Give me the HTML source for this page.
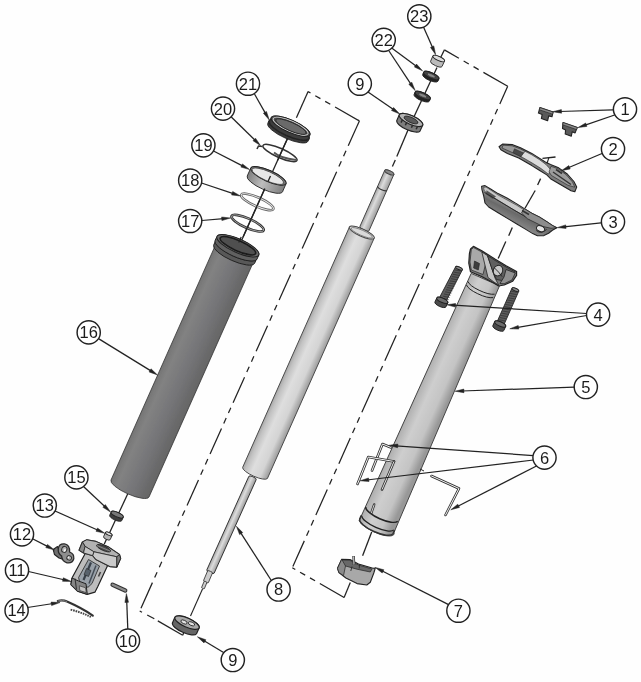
<!DOCTYPE html>
<html><head><meta charset="utf-8"><title>Exploded view</title>
<style>
html,body{margin:0;padding:0;background:#fefefe;}
svg{display:block;}
.n{font-family:"Liberation Sans",sans-serif;font-size:16.5px;fill:#1c1c1c;}
</style></head><body>
<svg width="641" height="682" viewBox="0 0 641 682">
<rect width="641" height="682" fill="#fefefe"/>
<g filter="url(#bl)">
<defs><filter id="bl" x="0" y="0" width="641" height="682" filterUnits="userSpaceOnUse"><feGaussianBlur stdDeviation="0.45"/></filter>
<linearGradient id="g16" gradientUnits="userSpaceOnUse" x1="0" y1="0" x2="41" y2="0" gradientTransform="translate(219 236) rotate(24)">
<stop offset="0" stop-color="#747474"/><stop offset="0.2" stop-color="#828282"/><stop offset="0.6" stop-color="#757578"/><stop offset="1" stop-color="#666"/></linearGradient>
<linearGradient id="g8" gradientUnits="userSpaceOnUse" x1="0" y1="0" x2="27" y2="0" gradientTransform="translate(349 227) rotate(24)">
<stop offset="0" stop-color="#a4a4a4"/><stop offset="0.15" stop-color="#c2c2c2"/><stop offset="0.4" stop-color="#dedede"/><stop offset="0.75" stop-color="#d4d4d4"/><stop offset="1" stop-color="#a0a0a0"/></linearGradient>
<linearGradient id="g5" gradientUnits="userSpaceOnUse" x1="0" y1="0" x2="35" y2="0" gradientTransform="translate(469 268) rotate(24)">
<stop offset="0" stop-color="#9c9c9c"/><stop offset="0.12" stop-color="#b2b2b2"/><stop offset="0.4" stop-color="#cecece"/><stop offset="0.75" stop-color="#c4c4c4"/><stop offset="1" stop-color="#989898"/></linearGradient>
<linearGradient id="g19" gradientUnits="userSpaceOnUse" x1="0" y1="0" x2="40" y2="0" gradientTransform="translate(249 168) rotate(24)"><stop offset="0" stop-color="#777"/><stop offset="0.45" stop-color="#bdbdbd"/><stop offset="1" stop-color="#808080"/></linearGradient>
<linearGradient id="g3" gradientUnits="userSpaceOnUse" x1="500" y1="196" x2="492" y2="212"><stop offset="0" stop-color="#9a9a9a"/><stop offset="0.5" stop-color="#6a6a6a"/><stop offset="1" stop-color="#858585"/></linearGradient>
<linearGradient id="g8b" gradientUnits="userSpaceOnUse" x1="0" y1="0" x2="8" y2="0" gradientTransform="translate(248.8 476.4) rotate(24)"><stop offset="0" stop-color="#aaa"/><stop offset="0.4" stop-color="#ddd"/><stop offset="1" stop-color="#999"/></linearGradient>
<linearGradient id="g8s" gradientUnits="userSpaceOnUse" x1="0" y1="0" x2="10" y2="0" gradientTransform="translate(384.7 170.4) rotate(24)"><stop offset="0" stop-color="#a2a2a2"/><stop offset="0.4" stop-color="#dcdcdc"/><stop offset="1" stop-color="#9c9c9c"/></linearGradient>
</defs>
<line x1="296.4" y1="117.7" x2="308.1" y2="91.6" stroke="#222" stroke-width="1.25" />
<line x1="359.4" y1="120.9" x2="308.1" y2="91.6" stroke="#222" stroke-width="1.25" stroke-dasharray="28 5.5 5.9 5.5 5.9 5.5" stroke-dashoffset="0"/>
<line x1="359.4" y1="120.9" x2="139.7" y2="611" stroke="#222" stroke-width="1.25" stroke-dasharray="28 5.5 5.9 5.5 5.9 5.5" stroke-dashoffset="0.7"/>
<line x1="139.7" y1="611" x2="142" y2="612.2" stroke="#222" stroke-width="1.25" />
<line x1="147.2" y1="615" x2="154.3" y2="618.8" stroke="#222" stroke-width="1.25" />
<line x1="157.8" y1="620.9" x2="182.7" y2="635.3" stroke="#222" stroke-width="1.25" />
<line x1="182.7" y1="635.3" x2="184.2" y2="631.5" stroke="#222" stroke-width="1.25" />
<line x1="440.9" y1="57" x2="444.4" y2="49.9" stroke="#222" stroke-width="1.25" />
<line x1="507.7" y1="86.3" x2="444.4" y2="49.9" stroke="#222" stroke-width="1.25" stroke-dasharray="28 5.5 5.9 5.5 5.9 5.5" stroke-dashoffset="0"/>
<line x1="507.7" y1="86.3" x2="292.3" y2="567.7" stroke="#222" stroke-width="1.25" stroke-dasharray="28 5.5 5.9 5.5 5.9 5.5" stroke-dashoffset="8.7"/>
<line x1="344.1" y1="597.5" x2="292.3" y2="567.7" stroke="#222" stroke-width="1.25" stroke-dasharray="28 5.5 5.9 5.5 5.9 5.5" stroke-dashoffset="0"/>
<line x1="344.1" y1="597.5" x2="350.3" y2="582.6" stroke="#222" stroke-width="1.25" />
<line x1="289" y1="135" x2="240" y2="244" stroke="#222" stroke-width="1.3" />
<line x1="128.6" y1="492" x2="104.3" y2="544" stroke="#222" stroke-width="1.3" />
<path d="M216.5 242.7 L111 480 A20.8 5.8 24.0 0 0 149 497 L254.5 259.6 A20.8 5.8 24.0 0 0 216.5 242.7 Z" fill="url(#g16)" stroke="#333" stroke-width="0.8" stroke-linejoin="round"/>
<path d="M215.6 240.7 L213.6 245.3 A22.4 6.7 24.0 0 0 254.5 263.5 L256.5 258.9 A22.4 6.7 24.0 0 0 215.6 240.7 Z" fill="#585858" stroke="#222" stroke-width="1" stroke-linejoin="round"/>
<ellipse cx="236.1" cy="249.8" rx="22.4" ry="6.7" transform="rotate(24.0 236.1 249.8)" fill="#444" stroke="#222" stroke-width="1" />
<path d="M217 236.4 L215.1 240.5 A22.9 6.9 24.0 0 0 257 259.1 L258.8 255 A22.9 6.9 24.0 0 0 217 236.4 Z" fill="#606060" stroke="#222" stroke-width="1" stroke-linejoin="round"/>
<ellipse cx="237.9" cy="245.7" rx="22.9" ry="6.9" transform="rotate(24.0 237.9 245.7)" fill="#6a6a6a" stroke="#222" stroke-width="1" />
<ellipse cx="237.9" cy="245.7" rx="19.4" ry="5.2" transform="rotate(24.0 237.9 245.7)" fill="#505050" stroke="#1a1a1a" stroke-width="1.6" />
<line x1="241.2" y1="237" x2="238.7" y2="242.5" stroke="#222" stroke-width="1.3" />
<ellipse cx="247.6" cy="223.2" rx="17.6" ry="4.7" transform="rotate(24.0 247.6 223.2)" fill="none" stroke="#333" stroke-width="2.6" />
<ellipse cx="247.6" cy="223.2" rx="17.6" ry="4.7" transform="rotate(24.0 247.6 223.2)" fill="none" stroke="#bbb" stroke-width="0.7" />
<ellipse cx="257.3" cy="201.9" rx="17.6" ry="4.5" transform="rotate(24.0 257.3 201.9)" fill="none" stroke="#666" stroke-width="2.6" />
<ellipse cx="257.3" cy="201.9" rx="17.6" ry="4.5" transform="rotate(24.0 257.3 201.9)" fill="none" stroke="#eee" stroke-width="0.9" />
<path d="M250.8 168 L247.2 176.1 A19.3 5.6 24.0 0 0 282.5 191.8 L286 183.8 A19.3 5.6 24.0 0 0 250.8 168 Z" fill="url(#g19)" stroke="#222" stroke-width="0.9" stroke-linejoin="round"/>
<ellipse cx="268.4" cy="175.9" rx="19.3" ry="5.6" transform="rotate(24.0 268.4 175.9)" fill="#777" stroke="#222" stroke-width="0.9" />
<ellipse cx="267.8" cy="176.2" rx="17.2" ry="4.7" transform="rotate(24.0 267.8 176.2)" fill="#e8e8e8" stroke="#333" stroke-width="0.7" />
<ellipse cx="280" cy="153" rx="18.6" ry="4.6" transform="rotate(24.0 280 153)" fill="none" stroke="#333" stroke-width="1.5" />
<path d="M262.5 146.5 L258.5 146 L257 149" fill="none" stroke="#333" stroke-width="1.6"/>
<path d="M274 152.5 Q280 158 296 160" fill="none" stroke="#555" stroke-width="1.8"/>
<path d="M268.9 120.9 L267.8 123.3 A22 6.4 24.0 0 0 308 141.2 L309.1 138.8 A22 6.4 24.0 0 0 268.9 120.9 Z" fill="#3a3a3a" stroke="#222" stroke-width="0.9" stroke-linejoin="round"/>
<ellipse cx="289" cy="129.9" rx="22" ry="6.4" transform="rotate(24.0 289 129.9)" fill="#333" stroke="#222" stroke-width="0.9" />
<path d="M271.2 117.6 L269.6 121.2 A21.2 6.1 24.0 0 0 308.3 138.5 L310 134.8 A21.2 6.1 24.0 0 0 271.2 117.6 Z" fill="#3c3c3c" stroke="#222" stroke-width="0.9" stroke-linejoin="round"/>
<ellipse cx="290.6" cy="126.2" rx="21.2" ry="6.1" transform="rotate(24.0 290.6 126.2)" fill="#4a4a4a" stroke="#222" stroke-width="0.9" />
<ellipse cx="290.6" cy="126.2" rx="19" ry="5.2" transform="rotate(24.0 290.6 126.2)" fill="none" stroke="#d8d8d8" stroke-width="0.9" />
<ellipse cx="290.9" cy="126.6" rx="16.6" ry="4.2" transform="rotate(24.0 290.9 126.6)" fill="#6a6a6a" stroke="#222" stroke-width="0.8" />
<line x1="287.6" y1="138.5" x2="277.5" y2="160.5" stroke="#222" stroke-width="1.3" />
<line x1="270.5" y1="176" x2="268" y2="181.5" stroke="#222" stroke-width="1.3" />
<line x1="264.8" y1="188.5" x2="243" y2="237" stroke="#222" stroke-width="1.3" />
<line x1="437" y1="67.4" x2="412" y2="121" stroke="#222" stroke-width="1.3" />
<line x1="408" y1="130" x2="396.8" y2="156.5" stroke="#222" stroke-width="1.3" />
<line x1="395.3" y1="160" x2="392.4" y2="166.6" stroke="#222" stroke-width="1.3" />
<path d="M384.7 170.4 L359.9 226.5 A5 1.7 24.0 0 0 369.1 230.5 L393.9 174.4 A5 1.7 24.0 0 0 384.7 170.4 Z" fill="url(#g8s)" stroke="#444" stroke-width="1" stroke-linejoin="round"/>
<ellipse cx="389.3" cy="172.4" rx="5" ry="1.7" transform="rotate(24.0 389.3 172.4)" fill="#8a8a8a" stroke="#444" stroke-width="1" />
<path d="M377.6 186.4 A5 1.7 24.0 0 0 386.7 190.4" fill="none" stroke="#333" stroke-width="1.2"/>
<path d="M349.4 227.1 L242.6 467.5 A13.6 3.7 24.0 0 0 267.4 478.5 L374.2 238.1 A13.6 3.7 24.0 0 0 349.4 227.1 Z" fill="url(#g8)" stroke="#4a4a4a" stroke-width="1" stroke-linejoin="round"/>
<ellipse cx="361.8" cy="232.6" rx="13.6" ry="3.7" transform="rotate(24.0 361.8 232.6)" fill="#dadada" stroke="#4a4a4a" stroke-width="1" />
<ellipse cx="361.8" cy="232.8" rx="11.6" ry="2.6" transform="rotate(24.0 361.8 232.8)" fill="none" stroke="#777" stroke-width="0.8" />
<path d="M248.8 476.4 L206.8 569.9 A4 1.3 24.0 0 0 214.2 573.1 L256.2 479.6 A4 1.3 24.0 0 0 248.8 476.4 Z" fill="url(#g8b)" stroke="#222" stroke-width="0.9" stroke-linejoin="round"/>
<path d="M207.6 570.9 L203.6 580.4 A2.6 0.8 24.0 0 0 208.4 582.6 L212.4 573.1 A2.6 0.8 24.0 0 0 207.6 570.9 Z" fill="#ccc" stroke="#222" stroke-width="0.8" stroke-linejoin="round"/>
<path d="M204.1 581.4 L201.6 587.4 A1.5 0.5 24.0 0 0 204.4 588.6 L206.9 582.6 A1.5 0.5 24.0 0 0 204.1 581.4 Z" fill="#ccc" stroke="#222" stroke-width="0.8" stroke-linejoin="round"/>
<line x1="202.5" y1="589" x2="190.5" y2="616" stroke="#222" stroke-width="1.1" />
<path d="M174.9 617.2 L172.4 623 A13.2 4.5 24.0 0 0 196.5 633.7 L199.1 628 A13.2 4.5 24.0 0 0 174.9 617.2 Z" fill="#666" stroke="#222" stroke-width="1.2" stroke-linejoin="round"/>
<ellipse cx="187" cy="622.6" rx="13.2" ry="4.5" transform="rotate(24.0 187 622.6)" fill="#a8a8a8" stroke="#222" stroke-width="1.2" />
<ellipse cx="184" cy="622" rx="3.4" ry="1.7" transform="rotate(24.0 184 622)" fill="#e0e0e0" stroke="#222" stroke-width="0.8" />
<ellipse cx="191.5" cy="623.8" rx="3.4" ry="1.7" transform="rotate(24.0 191.5 623.8)" fill="#e0e0e0" stroke="#222" stroke-width="0.8" />
<path d="M399.3 114.8 L396.7 120.7 A12.8 4.4 24.0 0 0 420 131.1 L422.7 125.2 A12.8 4.4 24.0 0 0 399.3 114.8 Z" fill="#7e7e7e" stroke="#222" stroke-width="1.1" stroke-linejoin="round"/>
<ellipse cx="411" cy="120" rx="12.8" ry="4.4" transform="rotate(24.0 411 120)" fill="#b4b4b4" stroke="#222" stroke-width="1.1" />
<ellipse cx="411" cy="120" rx="7.5" ry="2.6" transform="rotate(24.0 411 120)" fill="#5a5a5a" stroke="#222" stroke-width="0.8" />
<line x1="402.4" y1="119.7" x2="401.1" y2="122.6" stroke="#2a2a2a" stroke-width="1.5" />
<line x1="406.7" y1="122.3" x2="405.4" y2="125.2" stroke="#2a2a2a" stroke-width="1.5" />
<line x1="412.7" y1="124.9" x2="411.4" y2="127.8" stroke="#2a2a2a" stroke-width="1.5" />
<line x1="417.5" y1="126.4" x2="416.2" y2="129.3" stroke="#2a2a2a" stroke-width="1.5" />
<path d="M423.7 72.1 L422.7 74.4 A8.3 2.7 24.0 0 0 437.9 81.2 L438.9 78.9 A8.3 2.7 24.0 0 0 423.7 72.1 Z" fill="#222" stroke="#222" stroke-width="1" stroke-linejoin="round"/>
<ellipse cx="431.3" cy="75.5" rx="8.3" ry="2.7" transform="rotate(24.0 431.3 75.5)" fill="#444" stroke="#222" stroke-width="1" />
<ellipse cx="431.3" cy="75.5" rx="4.5" ry="1.6" transform="rotate(24.0 431.3 75.5)" fill="#888" stroke="#222" stroke-width="0.5" />
<path d="M415.1 92.1 L414.1 94.4 A8.3 2.7 24.0 0 0 429.3 101.2 L430.3 98.9 A8.3 2.7 24.0 0 0 415.1 92.1 Z" fill="#222" stroke="#222" stroke-width="1" stroke-linejoin="round"/>
<ellipse cx="422.7" cy="95.5" rx="8.3" ry="2.7" transform="rotate(24.0 422.7 95.5)" fill="#444" stroke="#222" stroke-width="1" />
<ellipse cx="422.7" cy="95.5" rx="4.5" ry="1.6" transform="rotate(24.0 422.7 95.5)" fill="#888" stroke="#222" stroke-width="0.5" />
<path d="M432.9 55.9 L430.5 61.4 A6.3 2 24.0 0 0 442 66.5 L444.5 61.1 A6.3 2 24.0 0 0 432.9 55.9 Z" fill="#bbb" stroke="#222" stroke-width="0.9" stroke-linejoin="round"/>
<ellipse cx="438.7" cy="58.5" rx="6.3" ry="2" transform="rotate(24.0 438.7 58.5)" fill="#ddd" stroke="#222" stroke-width="0.9" />
<path d="M471.2 273.4 L359.2 520.6 A17.7 5.6 24.0 0 0 394 532.4 L499.5 285.8 Z" fill="url(#g5)" stroke="#444" stroke-width="1"/>
<path d="M365.7 507 A17.6 5.6 24.0 0 0 397.7 521.2" fill="none" stroke="#222" stroke-width="1.5"/>
<path d="M361.8 515.7 A17.6 5.6 24.0 0 0 393.8 529.9" fill="none" stroke="#222" stroke-width="1.3"/>
<path d="M361.3 515.4 L359.7 519.1 A18.2 5.8 24.0 0 0 392.9 533.9 L394.6 530.2" fill="none" stroke="#333" stroke-width="1.5"/>
<line x1="374.2" y1="504.5" x2="371.3" y2="513" stroke="#333" stroke-width="2.4" stroke-linecap="round"/>
<line x1="374.2" y1="504.5" x2="371.3" y2="513" stroke="#ddd" stroke-width="0.9" />
<path d="M467.9 281.4 A16 5 24.0 0 0 494.6 294.2" fill="none" stroke="#222" stroke-width="1"/>
<path d="M466.4 284.8 A16 5 24.0 0 0 493.2 297.6" fill="none" stroke="#222" stroke-width="1"/>
<path d="M470.5 249 L473.4 246.4 L481.8 250.7 L494.9 259.1 L506.1 265.7 L516.6 271.5 L516.6 275.4 L512.7 281.2 L504.2 285 L498.6 286 L493.9 283 L481.8 276.6 L470.5 271.8 L468.8 263.1 L469.4 253.7 Z" fill="#7a7a7a" stroke="#222" stroke-width="1.2" stroke-linejoin="round" />
<path d="M471.3 249.5 L473.6 247.6 L481.8 252 L487.5 255.7 L483 274.5 L471.3 270 L470 262 Z" fill="#a9a9a9" stroke="#222" stroke-width="0.7" stroke-linejoin="round" />
<path d="M474.5 261 L479.5 263.5 L478.3 270 L473.6 268 Z" fill="#3c3c3c" stroke="#222" stroke-width="0.6" stroke-linejoin="round" />
<path d="M481.8 252 L487.5 255.7 L495 278 L498.6 285 L493.9 282 L488 277.5 Z" fill="#c4c4c4" stroke="#222" stroke-width="0.8" stroke-linejoin="round" />
<path d="M487.5 255.7 L494.9 260.3 L506.1 267 L515.3 272 L509 277 L502 280.5 L496.5 279.5 L493 272 Z" fill="#5e5e5e" stroke="#222" stroke-width="0.8" stroke-linejoin="round" />
<ellipse cx="498" cy="270.6" rx="4.6" ry="5.4" transform="rotate(24.0 498 270.6)" fill="#c8c8c8" stroke="#222" stroke-width="0.9" />
<path d="M494.5 268 Q499 272 502 276.5" fill="none" stroke="#222" stroke-width="0.9"/>
<path d="M506 269.5 L515.3 273 L512 280 L504.2 283.8 L500 283.5 L504 277 Z" fill="#909090" stroke="#222" stroke-width="0.8" stroke-linejoin="round" />
<path d="M455.6 266.8 L438.9 298.8 A3.7 1.3 24.0 0 0 445.7 301.8 L462.4 269.8 A3.7 1.3 24.0 0 0 455.6 266.8 Z" fill="#5c5c5c" stroke="#222" stroke-width="0.9" stroke-linejoin="round"/>
<ellipse cx="459" cy="268.3" rx="3.7" ry="1.3" transform="rotate(24.0 459 268.3)" fill="#8a8a8a" stroke="#222" stroke-width="0.9" />
<line x1="454.8" y1="269.9" x2="461.3" y2="271.1" stroke="#2e2e2e" stroke-width="0.7" />
<line x1="453.8" y1="272.1" x2="460.3" y2="273.3" stroke="#2e2e2e" stroke-width="0.7" />
<line x1="452.8" y1="274.3" x2="459.3" y2="275.4" stroke="#2e2e2e" stroke-width="0.7" />
<line x1="451.8" y1="276.5" x2="458.3" y2="277.6" stroke="#2e2e2e" stroke-width="0.7" />
<line x1="450.9" y1="278.7" x2="457.4" y2="279.8" stroke="#2e2e2e" stroke-width="0.7" />
<line x1="449.9" y1="280.9" x2="456.4" y2="282" stroke="#2e2e2e" stroke-width="0.7" />
<line x1="448.9" y1="283.1" x2="455.4" y2="284.2" stroke="#2e2e2e" stroke-width="0.7" />
<line x1="447.9" y1="285.3" x2="454.4" y2="286.4" stroke="#2e2e2e" stroke-width="0.7" />
<line x1="447" y1="287.5" x2="453.5" y2="288.6" stroke="#2e2e2e" stroke-width="0.7" />
<line x1="446" y1="289.7" x2="452.5" y2="290.8" stroke="#2e2e2e" stroke-width="0.7" />
<line x1="445" y1="291.8" x2="451.5" y2="293" stroke="#2e2e2e" stroke-width="0.7" />
<line x1="444" y1="294" x2="450.5" y2="295.2" stroke="#2e2e2e" stroke-width="0.7" />
<line x1="443.1" y1="296.2" x2="449.6" y2="297.4" stroke="#2e2e2e" stroke-width="0.7" />
<line x1="442.1" y1="298.4" x2="448.6" y2="299.6" stroke="#2e2e2e" stroke-width="0.7" />
<path d="M436.8 297.9 L434.9 302.1 A6 2.1 24.0 0 0 445.9 306.9 L447.8 302.7 A6 2.1 24.0 0 0 436.8 297.9 Z" fill="#4c4c4c" stroke="#222" stroke-width="1" stroke-linejoin="round"/>
<ellipse cx="442.3" cy="300.3" rx="6" ry="2.1" transform="rotate(24.0 442.3 300.3)" fill="#6c6c6c" stroke="#222" stroke-width="1" />
<path d="M512 288.1 L496.8 322.5 A3.7 1.3 24.0 0 0 503.6 325.5 L518.8 291.1 A3.7 1.3 24.0 0 0 512 288.1 Z" fill="#5c5c5c" stroke="#222" stroke-width="0.9" stroke-linejoin="round"/>
<ellipse cx="515.4" cy="289.6" rx="3.7" ry="1.3" transform="rotate(24.0 515.4 289.6)" fill="#8a8a8a" stroke="#222" stroke-width="0.9" />
<line x1="511.2" y1="291.2" x2="517.7" y2="292.4" stroke="#2e2e2e" stroke-width="0.7" />
<line x1="510.2" y1="293.4" x2="516.7" y2="294.6" stroke="#2e2e2e" stroke-width="0.7" />
<line x1="509.2" y1="295.6" x2="515.7" y2="296.7" stroke="#2e2e2e" stroke-width="0.7" />
<line x1="508.2" y1="297.8" x2="514.7" y2="298.9" stroke="#2e2e2e" stroke-width="0.7" />
<line x1="507.3" y1="300" x2="513.8" y2="301.1" stroke="#2e2e2e" stroke-width="0.7" />
<line x1="506.3" y1="302.2" x2="512.8" y2="303.3" stroke="#2e2e2e" stroke-width="0.7" />
<line x1="505.3" y1="304.4" x2="511.8" y2="305.5" stroke="#2e2e2e" stroke-width="0.7" />
<line x1="504.3" y1="306.6" x2="510.8" y2="307.7" stroke="#2e2e2e" stroke-width="0.7" />
<line x1="503.4" y1="308.8" x2="509.9" y2="309.9" stroke="#2e2e2e" stroke-width="0.7" />
<line x1="502.4" y1="311" x2="508.9" y2="312.1" stroke="#2e2e2e" stroke-width="0.7" />
<line x1="501.4" y1="313.1" x2="507.9" y2="314.3" stroke="#2e2e2e" stroke-width="0.7" />
<line x1="500.4" y1="315.3" x2="506.9" y2="316.5" stroke="#2e2e2e" stroke-width="0.7" />
<line x1="499.5" y1="317.5" x2="506" y2="318.7" stroke="#2e2e2e" stroke-width="0.7" />
<line x1="498.5" y1="319.7" x2="505" y2="320.9" stroke="#2e2e2e" stroke-width="0.7" />
<path d="M494.7 321.6 L492.8 325.8 A6 2.1 24.0 0 0 503.8 330.6 L505.7 326.4 A6 2.1 24.0 0 0 494.7 321.6 Z" fill="#4c4c4c" stroke="#222" stroke-width="1" stroke-linejoin="round"/>
<ellipse cx="500.2" cy="324" rx="6" ry="2.1" transform="rotate(24.0 500.2 324)" fill="#6c6c6c" stroke="#222" stroke-width="1" />
<line x1="540.6" y1="178.6" x2="537.6" y2="185" stroke="#222" stroke-width="1.3" />
<line x1="535.2" y1="190.5" x2="525" y2="208.2" stroke="#222" stroke-width="1.3" />
<line x1="512.3" y1="227.6" x2="508.7" y2="235.8" stroke="#222" stroke-width="1.3" />
<line x1="505.8" y1="241.4" x2="498.2" y2="258.5" stroke="#222" stroke-width="1.3" />
<path d="M481.6 186.2 L485 185.6 L490.6 189 L498.1 193.6 L507.4 198.3 L516.8 203.9 L524.3 208.6 L531.8 213.3 L539.3 217 L546.8 221.7 L552.4 225.5 L556.8 227.7 L552.4 230.3 L548.6 233.2 L543.9 235.6 L537.4 235.8 L532.7 233.6 L526.2 229.6 L516.8 224 L507.4 218.4 L498.1 212.8 L488.7 207 L485 203 L483.6 195.5 L482 189.9 Z" fill="url(#g3)" stroke="#222" stroke-width="1.1" stroke-linejoin="round" />
<path d="M483.5 187.5 L486 187 L498.1 195 L516.8 205.3 L531.8 214.8 L529 218.3 L514 210 L497 199.5 L488 193.5 L484.3 191 Z" fill="#c9c9c9" stroke="#333" stroke-width="0.6" stroke-linejoin="round" />
<path d="M486.5 190.2 L496 196.5 L492.5 199 L486 194.3 Z" fill="#555" stroke="none" stroke-width="1" stroke-linejoin="round" />
<line x1="484.5" y1="192.5" x2="530" y2="219.5" stroke="#222" stroke-width="0.9" />
<path d="M524.3 208.6 L531.8 213.3 L539.3 217 L546.8 221.7 L552.4 225.5 L556.8 227.7 L551 228.3 L543 226.5 L534 222 L527.5 218.8 L521.5 213 Z" fill="#8d8d8d" stroke="#222" stroke-width="0.7" stroke-linejoin="round" />
<line x1="522" y1="210.5" x2="529" y2="214.5" stroke="#333" stroke-width="1.6" />
<ellipse cx="540.5" cy="228.7" rx="4.2" ry="2.8" transform="rotate(24.0 540.5 228.7)" fill="#e6e6e6" stroke="#222" stroke-width="0.9" />
<path d="M536.3 230.5 Q541 234.5 546.5 229.5" fill="none" stroke="#222" stroke-width="0.9"/>
<path d="M499 146.8 L502.8 144 L512.1 144.6 L520.5 147.8 L531.8 153.4 L539.3 158.1 L544.9 161.8 L550.5 164.6 L558 167.4 L567.3 174 L573.9 181.5 L576.7 187.1 L574.8 191.8 L571.1 190.8 L559.9 184.3 L550.5 178.7 L546.8 174.9 L539.3 170.2 L531.8 165.6 L518.7 158.1 L507.4 153.4 L500.9 149.7 Z" fill="#7d7d7d" stroke="#222" stroke-width="1.1" stroke-linejoin="round" />
<path d="M503 145.2 L512.1 145.8 L520.5 149 L525 151.3 L521 156.5 L510 151.5 L502 148 Z" fill="#9a9a9a" stroke="#222" stroke-width="0.6" stroke-linejoin="round" />
<path d="M514.5 148.8 L523.5 153 L521.5 157 L513 152.5 Z" fill="#4a4a4a" stroke="#222" stroke-width="0.5" stroke-linejoin="round" />
<path d="M525 151.3 L531.8 154.8 L539.3 159.5 L546 164.5 L551 170 L548.5 174.2 L541 168.5 L533 163.5 L521 156.5 Z" fill="#dcdcdc" stroke="#222" stroke-width="0.6" stroke-linejoin="round" />
<path d="M551 166.3 L558 168.8 L566.5 175 L572.5 182 L574.8 187.2 L568 185.3 L559 180 L551.5 175.5 L549 172 Z" fill="#9c9c9c" stroke="#222" stroke-width="0.6" stroke-linejoin="round" />
<line x1="553" y1="172" x2="571" y2="184.5" stroke="#333" stroke-width="1.4" />
<line x1="556" y1="169.5" x2="562" y2="173.5" stroke="#333" stroke-width="1.6" />
<line x1="542.5" y1="158.3" x2="555.5" y2="157" stroke="#222" stroke-width="1.3" />
<line x1="548.8" y1="157.8" x2="547" y2="163.5" stroke="#222" stroke-width="1.1" />
<path d="M539.9 107.6 L553.1 112 L552 116.8 L548.7 115.9 L547.6 120.8 L541.4 118.6 L542.1 114.6 L538.4 113.1 Z" fill="#5a5a5a" stroke="#222" stroke-width="1.1" stroke-linejoin="round" />
<path d="M539.9 107.6 L553.1 112 L552.6 114.2 L539.4 109.8 Z" fill="#8a8a8a" stroke="#222" stroke-width="0.6" stroke-linejoin="round" />
<path d="M563 122.5 L577.3 127.4 L575.1 132.9 L572.2 131.8 L571.3 136.2 L565.2 134 L565.6 130 L562.5 128.5 Z" fill="#5a5a5a" stroke="#222" stroke-width="1.1" stroke-linejoin="round" />
<path d="M563 122.5 L577.3 127.4 L576.6 129.6 L562.8 124.8 Z" fill="#8a8a8a" stroke="#222" stroke-width="0.6" stroke-linejoin="round" />
<path d="M372 470.5 L382.5 444 L391 447.5" fill="none" stroke="#333" stroke-width="2.6" stroke-linecap="round" stroke-linejoin="round"/>
<path d="M372 470.5 L382.5 444 L391 447.5" fill="none" stroke="#f4f4f4" stroke-width="1" stroke-linecap="round" stroke-linejoin="round"/>
<path d="M357.5 484 L368.3 457 L394 461.5" fill="none" stroke="#333" stroke-width="2.6" stroke-linecap="round" stroke-linejoin="round"/>
<path d="M357.5 484 L368.3 457 L394 461.5" fill="none" stroke="#f4f4f4" stroke-width="1" stroke-linecap="round" stroke-linejoin="round"/>
<line x1="394" y1="461.5" x2="382" y2="489.5" stroke="#333" stroke-width="2.6" stroke-linecap="round"/>
<line x1="394" y1="461.5" x2="382" y2="489.5" stroke="#e4e4e4" stroke-width="1" />
<path d="M431.5 476 L459 488.5 L445.5 515" fill="none" stroke="#333" stroke-width="2.6" stroke-linecap="round" stroke-linejoin="round"/>
<path d="M431.5 476 L459 488.5 L445.5 515" fill="none" stroke="#f4f4f4" stroke-width="1" stroke-linecap="round" stroke-linejoin="round"/>
<line x1="420" y1="469" x2="424" y2="471" stroke="#222" stroke-width="1" />
<path d="M341.7 559.2 L350 559.5 L358.5 564 L373 568.3 L375.3 568 L373.8 573 L370.3 582.2 L366.8 585 L357.1 583.6 L345.9 578 L338.9 572.5 L337.5 568.3 Z" fill="#a8a8a8" stroke="#222" stroke-width="1.1" stroke-linejoin="round" />
<path d="M342.5 560 L350 560.4 L358.5 565 L372 569 L370.3 572 L357 569.2 L345.5 566 L340.8 564.2 Z" fill="#686868" stroke="#222" stroke-width="0.7" stroke-linejoin="round" />
<path d="M341.7 559.2 L345.5 566 L343.5 575.6 L338.9 572.5 L337.5 568.3 Z" fill="#8a8a8a" stroke="#222" stroke-width="0.7" stroke-linejoin="round" />
<line x1="352" y1="566.5" x2="350.8" y2="571" stroke="#222" stroke-width="0.8" />
<line x1="359.5" y1="564.5" x2="359.2" y2="568.5" stroke="#222" stroke-width="0.8" />
<line x1="353.6" y1="556" x2="354" y2="565" stroke="#333" stroke-width="2.6" />
<line x1="353.6" y1="556.4" x2="354" y2="564.6" stroke="#ccc" stroke-width="1.1" />
<line x1="371.7" y1="532" x2="362.6" y2="555.7" stroke="#222" stroke-width="1.3" />
<path d="M111.2 511.9 L109.7 515.2 A6.6 2.3 24.0 0 0 121.8 520.6 L123.2 517.3 A6.6 2.3 24.0 0 0 111.2 511.9 Z" fill="#3c3c3c" stroke="#222" stroke-width="0.9" stroke-linejoin="round"/>
<ellipse cx="117.2" cy="514.6" rx="6.6" ry="2.3" transform="rotate(24.0 117.2 514.6)" fill="#777" stroke="#222" stroke-width="0.9" />
<path d="M105.5 532.4 L103.6 536.6 A3.6 1.4 24.0 0 0 110.2 539.6 L112.1 535.4 A3.6 1.4 24.0 0 0 105.5 532.4 Z" fill="#b4b4b4" stroke="#222" stroke-width="0.9" stroke-linejoin="round"/>
<ellipse cx="108.8" cy="533.9" rx="3.6" ry="1.4" transform="rotate(24.0 108.8 533.9)" fill="#dcdcdc" stroke="#222" stroke-width="0.9" />
<path d="M86.3 551.5 L72 578 L70.9 584.6 L77.5 591.2 L87.3 594.4 L94.9 592.2 L97.7 586.8 L109.5 561.5 Z" fill="#bdbdbd" stroke="#222" stroke-width="1.2" stroke-linejoin="round" />
<path d="M88.5 559.5 L78.6 577.5 L80 584 L88 587.3 L92 583.5 L99.5 566 Z" fill="#98a0a8" stroke="#222" stroke-width="0.8" stroke-linejoin="round" />
<line x1="91" y1="562.5" x2="83.5" y2="580" stroke="#39404a" stroke-width="2.2" />
<line x1="96" y1="565.5" x2="89" y2="583.5" stroke="#444c55" stroke-width="1.5" />
<path d="M86.5 568.5 L91 570.5 L88.5 576.5 L84 574.5 Z" fill="#59626c" stroke="#222" stroke-width="0.6" stroke-linejoin="round" />
<line x1="100.5" y1="572" x2="98.5" y2="576.5" stroke="#444" stroke-width="1.6" />
<path d="M72 578 L78.5 581 L86 583.8 L87.3 594.4 L77.5 591.2 L70.9 584.6 Z" fill="#868686" stroke="#222" stroke-width="1" stroke-linejoin="round" />
<path d="M79.3 585.8 L85.6 587.8 L86.2 592.6 L79.8 590.6 Z" fill="#c4c4c4" stroke="#222" stroke-width="0.6" stroke-linejoin="round" />
<line x1="75" y1="578.5" x2="76.5" y2="589.5" stroke="#333" stroke-width="1.1" />
<path d="M79.1 550.2 L82.4 542 L86.8 539.8 L96 541.5 L108.1 546.9 L119.5 554.6 L120.6 558.4 L116.8 567.1 L110.2 566.6 L96 559.5 L92.8 555.7 L83.5 552.9 Z" fill="#b0b0b0" stroke="#222" stroke-width="1.3" stroke-linejoin="round" />
<path d="M82.4 542 L86.8 539.8 L96 541.5 L108.1 546.9 L119.5 554.6 L116.8 556.8 L93.9 551.8 L85.1 546.4 Z" fill="#b2b2b2" stroke="#222" stroke-width="0.8" stroke-linejoin="round" />
<path d="M79.1 550.2 L82.4 542 L85.1 546.4 L83.5 552.9 Z" fill="#8a8a8a" stroke="#222" stroke-width="0.8" stroke-linejoin="round" />
<path d="M85.1 546.4 L93.9 551.8 L92.8 555.7 L83.5 552.9 Z" fill="#c4c4c4" stroke="#222" stroke-width="0.8" stroke-linejoin="round" />
<path d="M93.9 551.8 L116.8 556.8 L116.8 567.1 L110.2 566.6 L96 559.5 L92.8 555.7 Z" fill="#cacaca" stroke="#222" stroke-width="0.8" stroke-linejoin="round" />
<path d="M116.8 556.8 L119.5 554.6 L120.6 558.4 L116.8 567.1 Z" fill="#808080" stroke="#222" stroke-width="0.8" stroke-linejoin="round" />
<ellipse cx="103.6" cy="548.2" rx="7.6" ry="2.3" transform="rotate(24.0 103.6 548.2)" fill="#4c4c4c" stroke="#222" stroke-width="0.8" />
<line x1="97" y1="545.5" x2="110" y2="551" stroke="#999" stroke-width="0.8" />
<path d="M53.2 549.5 L57.5 546.5 L61.5 555.5 L63.5 559.5 L59 558 L54.5 554.5 Z" fill="#6e6e6e" stroke="#222" stroke-width="1.1" stroke-linejoin="round" />
<path d="M58.3 548.5 Q59 543.4 64.6 543.9 Q70 545 69.6 552 Q74.4 553.8 73.8 558.8 Q72.4 563.6 67 562.8 Q62 561.4 61.6 556 Q57.6 553.5 58.3 548.5 Z" fill="#8e8e8e" stroke="#2a2a2a" stroke-width="1.3"/>
<ellipse cx="64.3" cy="549.4" rx="2.6" ry="3" transform="rotate(24.0 64.3 549.4)" fill="#b8b8b8" stroke="#333" stroke-width="1" />
<ellipse cx="64.9" cy="550.3" rx="0.9" ry="1.5" transform="rotate(24.0 64.9 550.3)" fill="#f2f2f2" stroke="none" stroke-width="0" />
<ellipse cx="69.2" cy="557.9" rx="2.4" ry="2.2" transform="rotate(24.0 69.2 557.9)" fill="#b0b0b0" stroke="#333" stroke-width="1" />
<ellipse cx="68.4" cy="557.5" rx="0.8" ry="0.9" transform="rotate(24.0 68.4 557.5)" fill="#eee" stroke="none" stroke-width="0" />
<line x1="112.6" y1="584.7" x2="125.2" y2="590.5" stroke="#333" stroke-width="4.4" stroke-linecap="round"/>
<line x1="112.6" y1="584.7" x2="125.2" y2="590.5" stroke="#8c8c8c" stroke-width="2.2" stroke-linecap="round"/>
<path d="M57.8 601 Q62.5 599.3 67 601.6 Q82 608.2 92.8 615.6" fill="none" stroke="#333" stroke-width="2.2" stroke-linecap="round"/>
<path d="M57.8 601 Q62.5 599.3 67 601.6" fill="none" stroke="#999" stroke-width="0.7"/>
<path d="M70.6 609.6 Q82 612.5 91.5 617.3" fill="none" stroke="#444" stroke-width="1.9" stroke-dasharray="1.6 0.9"/>
<line x1="254.5" y1="94" x2="265.9" y2="114.1" stroke="#222" stroke-width="1.25" />
<path d="M269.3 120 L263.4 113.2 L266.5 111.5 Z" fill="#222" stroke="#222" stroke-width="0.5" stroke-linejoin="round" />
<line x1="231.3" y1="117" x2="255.6" y2="140.8" stroke="#222" stroke-width="1.25" />
<path d="M260.5 145.6 L253 140.7 L255.5 138.2 Z" fill="#222" stroke="#222" stroke-width="0.5" stroke-linejoin="round" />
<line x1="213.5" y1="151" x2="243.5" y2="166.4" stroke="#222" stroke-width="1.25" />
<path d="M249.5 169.5 L240.9 167.1 L242.5 163.9 Z" fill="#222" stroke="#222" stroke-width="0.5" stroke-linejoin="round" />
<line x1="201.5" y1="183" x2="234" y2="193.8" stroke="#222" stroke-width="1.25" />
<path d="M240.5 196 L231.6 194.9 L232.7 191.5 Z" fill="#222" stroke="#222" stroke-width="0.5" stroke-linejoin="round" />
<line x1="201.8" y1="220.5" x2="223.7" y2="218.6" stroke="#222" stroke-width="1.25" />
<path d="M230.5 218 L221.9 220.6 L221.6 217 Z" fill="#222" stroke="#222" stroke-width="0.5" stroke-linejoin="round" />
<line x1="98.5" y1="338.6" x2="151.7" y2="371.4" stroke="#222" stroke-width="1.25" />
<path d="M157.5 375 L149.1 371.9 L151 368.8 Z" fill="#222" stroke="#222" stroke-width="0.5" stroke-linejoin="round" />
<line x1="83.5" y1="486.5" x2="105.6" y2="507.3" stroke="#222" stroke-width="1.25" />
<path d="M110.5 512 L102.9 507.3 L105.3 504.6 Z" fill="#222" stroke="#222" stroke-width="0.5" stroke-linejoin="round" />
<line x1="55" y1="511" x2="98.6" y2="530.5" stroke="#222" stroke-width="1.25" />
<path d="M104.8 533.3 L96 531.3 L97.5 528.1 Z" fill="#222" stroke="#222" stroke-width="0.5" stroke-linejoin="round" />
<line x1="32.5" y1="538.8" x2="48.4" y2="546.9" stroke="#222" stroke-width="1.25" />
<path d="M54.5 550 L45.8 547.6 L47.5 544.4 Z" fill="#222" stroke="#222" stroke-width="0.5" stroke-linejoin="round" />
<line x1="28.5" y1="571.5" x2="64.9" y2="580" stroke="#222" stroke-width="1.25" />
<path d="M71.5 581.5 L62.5 581.3 L63.3 577.8 Z" fill="#222" stroke="#222" stroke-width="0.5" stroke-linejoin="round" />
<line x1="27.5" y1="607.5" x2="53.3" y2="603.5" stroke="#222" stroke-width="1.25" />
<path d="M60 602.5 L51.6 605.6 L51 602.1 Z" fill="#222" stroke="#222" stroke-width="0.5" stroke-linejoin="round" />
<line x1="127.8" y1="629" x2="126.7" y2="600.4" stroke="#222" stroke-width="1.25" />
<path d="M126.4 593.6 L128.5 602.3 L124.9 602.5 Z" fill="#222" stroke="#222" stroke-width="0.5" stroke-linejoin="round" />
<line x1="271" y1="580" x2="240.1" y2="531.9" stroke="#222" stroke-width="1.25" />
<path d="M236.4 526.2 L242.7 532.6 L239.6 534.6 Z" fill="#222" stroke="#222" stroke-width="0.5" stroke-linejoin="round" />
<line x1="224" y1="652.8" x2="203.2" y2="640.3" stroke="#222" stroke-width="1.25" />
<path d="M197.4 636.8 L205.9 639.8 L204 642.9 Z" fill="#222" stroke="#222" stroke-width="0.5" stroke-linejoin="round" />
<line x1="368" y1="92" x2="394.2" y2="110.1" stroke="#222" stroke-width="1.25" />
<path d="M399.8 114 L391.5 110.5 L393.6 107.5 Z" fill="#222" stroke="#222" stroke-width="0.5" stroke-linejoin="round" />
<line x1="391" y1="47.5" x2="417" y2="66.8" stroke="#222" stroke-width="1.25" />
<path d="M422.5 70.8 L414.4 67 L416.5 64.1 Z" fill="#222" stroke="#222" stroke-width="0.5" stroke-linejoin="round" />
<line x1="389" y1="51" x2="411.4" y2="84.9" stroke="#222" stroke-width="1.25" />
<path d="M415.2 90.6 L408.8 84.3 L411.8 82.3 Z" fill="#222" stroke="#222" stroke-width="0.5" stroke-linejoin="round" />
<line x1="423.5" y1="27" x2="433" y2="48.5" stroke="#222" stroke-width="1.25" />
<path d="M435.7 54.7 L430.5 47.4 L433.8 45.9 Z" fill="#222" stroke="#222" stroke-width="0.5" stroke-linejoin="round" />
<line x1="613" y1="109.8" x2="559.5" y2="111.5" stroke="#222" stroke-width="1.25" />
<path d="M552.7 111.7 L561.4 109.6 L561.6 113.2 Z" fill="#222" stroke="#222" stroke-width="0.5" stroke-linejoin="round" />
<line x1="614.6" y1="115" x2="584.4" y2="125.4" stroke="#222" stroke-width="1.25" />
<path d="M578 127.6 L585.7 123 L586.9 126.4 Z" fill="#222" stroke="#222" stroke-width="0.5" stroke-linejoin="round" />
<line x1="602" y1="153.5" x2="567.7" y2="168" stroke="#222" stroke-width="1.25" />
<path d="M561.4 170.7 L568.8 165.6 L570.2 168.9 Z" fill="#222" stroke="#222" stroke-width="0.5" stroke-linejoin="round" />
<line x1="601" y1="222.8" x2="564" y2="226.9" stroke="#222" stroke-width="1.25" />
<path d="M557.2 227.6 L565.8 224.9 L566.1 228.4 Z" fill="#222" stroke="#222" stroke-width="0.5" stroke-linejoin="round" />
<line x1="586.6" y1="313.5" x2="453.5" y2="305.2" stroke="#222" stroke-width="1.25" />
<path d="M446.7 304.8 L455.6 303.5 L455.4 307.1 Z" fill="#222" stroke="#222" stroke-width="0.5" stroke-linejoin="round" />
<line x1="586.6" y1="315.5" x2="516.5" y2="327.6" stroke="#222" stroke-width="1.25" />
<path d="M509.8 328.8 L518.2 325.5 L518.8 329.1 Z" fill="#222" stroke="#222" stroke-width="0.5" stroke-linejoin="round" />
<line x1="574.2" y1="387.2" x2="461.9" y2="391" stroke="#222" stroke-width="1.25" />
<path d="M455.1 391.2 L463.8 389.1 L464 392.7 Z" fill="#222" stroke="#222" stroke-width="0.5" stroke-linejoin="round" />
<line x1="533.2" y1="455.6" x2="395.8" y2="445.8" stroke="#222" stroke-width="1.25" />
<path d="M389 445.3 L397.9 444.1 L397.6 447.7 Z" fill="#222" stroke="#222" stroke-width="0.5" stroke-linejoin="round" />
<line x1="533.4" y1="460" x2="366.8" y2="480" stroke="#222" stroke-width="1.25" />
<path d="M360 480.8 L368.5 478 L369 481.5 Z" fill="#222" stroke="#222" stroke-width="0.5" stroke-linejoin="round" />
<line x1="536.5" y1="466" x2="456.9" y2="506.7" stroke="#222" stroke-width="1.25" />
<path d="M450.8 509.8 L457.8 504.2 L459.5 507.4 Z" fill="#222" stroke="#222" stroke-width="0.5" stroke-linejoin="round" />
<line x1="448.6" y1="604.6" x2="381.3" y2="570.5" stroke="#222" stroke-width="1.25" />
<path d="M375.2 567.4 L383.9 569.8 L382.2 573 Z" fill="#222" stroke="#222" stroke-width="0.5" stroke-linejoin="round" />
<circle cx="248" cy="83.7" r="11.6" fill="#fff" stroke="#222" stroke-width="1.45"/>
<text x="248" y="89.6" text-anchor="middle" class="n">21</text>
<circle cx="223" cy="108.6" r="11.6" fill="#fff" stroke="#222" stroke-width="1.45"/>
<text x="223" y="114.5" text-anchor="middle" class="n">20</text>
<circle cx="203.4" cy="145.3" r="11.6" fill="#fff" stroke="#222" stroke-width="1.45"/>
<text x="203.4" y="151.2" text-anchor="middle" class="n">19</text>
<circle cx="190.2" cy="180.5" r="11.6" fill="#fff" stroke="#222" stroke-width="1.45"/>
<text x="190.2" y="186.4" text-anchor="middle" class="n">18</text>
<circle cx="190.2" cy="221" r="11.6" fill="#fff" stroke="#222" stroke-width="1.45"/>
<text x="190.2" y="226.9" text-anchor="middle" class="n">17</text>
<circle cx="88.7" cy="332.4" r="11.6" fill="#fff" stroke="#222" stroke-width="1.45"/>
<text x="88.7" y="338.3" text-anchor="middle" class="n">16</text>
<circle cx="76.4" cy="477.4" r="11.6" fill="#fff" stroke="#222" stroke-width="1.45"/>
<text x="76.4" y="483.3" text-anchor="middle" class="n">15</text>
<circle cx="44.8" cy="505.5" r="11.6" fill="#fff" stroke="#222" stroke-width="1.45"/>
<text x="44.8" y="511.4" text-anchor="middle" class="n">13</text>
<circle cx="22" cy="534.3" r="11.6" fill="#fff" stroke="#222" stroke-width="1.45"/>
<text x="22" y="540.2" text-anchor="middle" class="n">12</text>
<circle cx="17" cy="570.3" r="11.6" fill="#fff" stroke="#222" stroke-width="1.45"/>
<text x="17" y="576.2" text-anchor="middle" class="n">11</text>
<circle cx="16.6" cy="610.4" r="11.6" fill="#fff" stroke="#222" stroke-width="1.45"/>
<text x="16.6" y="616.3" text-anchor="middle" class="n">14</text>
<circle cx="128" cy="640.6" r="11.6" fill="#fff" stroke="#222" stroke-width="1.45"/>
<text x="128" y="646.5" text-anchor="middle" class="n">10</text>
<circle cx="278.6" cy="589.5" r="11.6" fill="#fff" stroke="#222" stroke-width="1.45"/>
<text x="278.6" y="595.4" text-anchor="middle" class="n">8</text>
<circle cx="232.8" cy="660" r="11.6" fill="#fff" stroke="#222" stroke-width="1.45"/>
<text x="232.8" y="665.9" text-anchor="middle" class="n">9</text>
<circle cx="359.8" cy="83.7" r="11.6" fill="#fff" stroke="#222" stroke-width="1.45"/>
<text x="359.8" y="89.6" text-anchor="middle" class="n">9</text>
<circle cx="383.7" cy="39.9" r="11.6" fill="#fff" stroke="#222" stroke-width="1.45"/>
<text x="383.7" y="45.8" text-anchor="middle" class="n">22</text>
<circle cx="419.3" cy="16.3" r="11.6" fill="#fff" stroke="#222" stroke-width="1.45"/>
<text x="419.3" y="22.2" text-anchor="middle" class="n">23</text>
<circle cx="625" cy="109.3" r="11.6" fill="#fff" stroke="#222" stroke-width="1.45"/>
<text x="625" y="115.2" text-anchor="middle" class="n">1</text>
<circle cx="613" cy="149" r="11.6" fill="#fff" stroke="#222" stroke-width="1.45"/>
<text x="613" y="154.9" text-anchor="middle" class="n">2</text>
<circle cx="613" cy="221.8" r="11.6" fill="#fff" stroke="#222" stroke-width="1.45"/>
<text x="613" y="227.7" text-anchor="middle" class="n">3</text>
<circle cx="598.1" cy="314.6" r="11.6" fill="#fff" stroke="#222" stroke-width="1.45"/>
<text x="598.1" y="320.5" text-anchor="middle" class="n">4</text>
<circle cx="585.8" cy="387" r="11.6" fill="#fff" stroke="#222" stroke-width="1.45"/>
<text x="585.8" y="392.9" text-anchor="middle" class="n">5</text>
<circle cx="544.5" cy="457.6" r="11.6" fill="#fff" stroke="#222" stroke-width="1.45"/>
<text x="544.5" y="463.5" text-anchor="middle" class="n">6</text>
<circle cx="458.4" cy="610.7" r="11.6" fill="#fff" stroke="#222" stroke-width="1.45"/>
<text x="458.4" y="616.6" text-anchor="middle" class="n">7</text>
</g>
</svg>
</body></html>
